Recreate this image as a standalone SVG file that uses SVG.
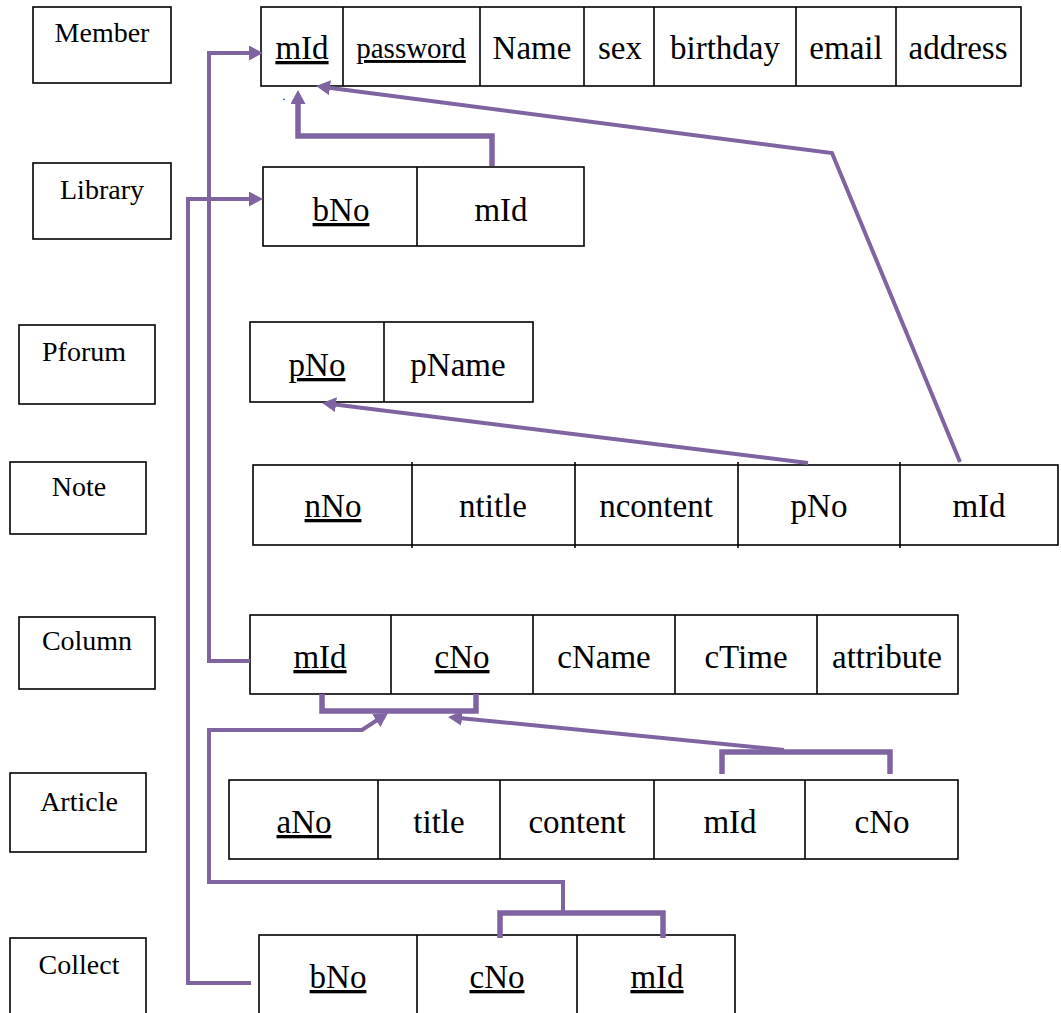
<svg xmlns="http://www.w3.org/2000/svg" width="1061" height="1013" viewBox="0 0 1061 1013" font-family="Liberation Serif, Times New Roman, serif">
<style>
.bg{fill:#ffffff}
.box{fill:#ffffff;stroke:#000000;stroke-width:1.6}
.div{stroke:#000000;stroke-width:1.6}
.lbl{font-size:28px;fill:#000000;text-anchor:middle}
.fld{font-size:33px;fill:#000000;text-anchor:middle}
.sm{font-size:29px}
.pk{text-decoration:underline}
.con{fill:none;stroke:#8064A2;stroke-width:4;stroke-linejoin:miter}
.thk{stroke-width:5.5}
.arr{marker-end:url(#ah)}
</style>
<defs>
<marker id="ah" markerUnits="userSpaceOnUse" markerWidth="18" markerHeight="18" refX="3" refY="7.5" orient="auto" viewBox="0 0 18 18">
<path d="M0,0 L14,7.5 L0,15 z" fill="#8064A2"/>
</marker>
</defs>
<rect class="bg" x="0" y="0" width="1061" height="1013"/>

<g id="label-member"><rect class="box" x="33" y="7" width="138" height="76"/><text class="lbl" x="102" y="42">Member</text></g>
<g id="label-library"><rect class="box" x="33" y="163" width="138" height="76"/><text class="lbl" x="102" y="199">Library</text></g>
<g id="label-pforum"><rect class="box" x="19" y="325" width="136" height="79"/><text class="lbl" x="84" y="361">Pforum</text></g>
<g id="label-note"><rect class="box" x="10" y="462" width="136" height="72"/><text class="lbl" x="79" y="496">Note</text></g>
<g id="label-column"><rect class="box" x="19" y="617" width="136" height="72"/><text class="lbl" x="87" y="650">Column</text></g>
<g id="label-article"><rect class="box" x="10" y="773" width="136" height="79"/><text class="lbl" x="79" y="811">Article</text></g>
<g id="label-collect"><rect class="box" x="10" y="938" width="136" height="80"/><text class="lbl" x="79" y="974">Collect</text></g>

<g id="member">
<rect class="box" x="261" y="7" width="760" height="79"/>
<line class="div" x1="343" y1="7" x2="343" y2="86"/>
<line class="div" x1="480" y1="7" x2="480" y2="86"/>
<line class="div" x1="584" y1="7" x2="584" y2="86"/>
<line class="div" x1="654" y1="7" x2="654" y2="86"/>
<line class="div" x1="796" y1="7" x2="796" y2="86"/>
<line class="div" x1="896" y1="7" x2="896" y2="86"/>
<text class="fld pk" x="302" y="59">mId</text>
<text class="fld sm pk" x="411" y="58">password</text>
<text class="fld" x="532" y="59">Name</text>
<text class="fld" x="620" y="59">sex</text>
<text class="fld" x="725" y="59">birthday</text>
<text class="fld" x="846" y="59">email</text>
<text class="fld" x="958" y="59">address</text>
<text class="fld" x="284" y="100" style="font-size:12px">.</text>
</g>

<g id="library">
<rect class="box" x="263" y="167" width="321" height="79"/>
<line class="div" x1="417" y1="167" x2="417" y2="246"/>
<text class="fld pk" x="341" y="221">bNo</text>
<text class="fld" x="501" y="221">mId</text>
</g>

<g id="pforum">
<rect class="box" x="250" y="322" width="283" height="80"/>
<line class="div" x1="384" y1="322" x2="384" y2="402"/>
<text class="fld pk" x="317" y="376">pNo</text>
<text class="fld" x="458" y="376">pName</text>
</g>

<g id="note">
<rect class="box" x="253" y="465" width="805" height="80"/>
<line class="div" x1="412" y1="462" x2="412" y2="548"/>
<line class="div" x1="575" y1="462" x2="575" y2="548"/>
<line class="div" x1="738" y1="462" x2="738" y2="548"/>
<line class="div" x1="900" y1="462" x2="900" y2="548"/>
<text class="fld pk" x="333" y="517">nNo</text>
<text class="fld" x="493" y="517">ntitle</text>
<text class="fld" x="656" y="517">ncontent</text>
<text class="fld" x="819" y="517">pNo</text>
<text class="fld" x="979" y="517">mId</text>
</g>

<g id="column">
<rect class="box" x="250" y="615" width="708" height="79"/>
<line class="div" x1="391" y1="615" x2="391" y2="694"/>
<line class="div" x1="533" y1="615" x2="533" y2="694"/>
<line class="div" x1="675" y1="615" x2="675" y2="694"/>
<line class="div" x1="817" y1="615" x2="817" y2="694"/>
<text class="fld pk" x="320" y="668">mId</text>
<text class="fld pk" x="462" y="668">cNo</text>
<text class="fld" x="604" y="668">cName</text>
<text class="fld" x="746" y="668">cTime</text>
<text class="fld" x="887" y="668">attribute</text>
</g>

<g id="article">
<rect class="box" x="229" y="780" width="729" height="79"/>
<line class="div" x1="378" y1="780" x2="378" y2="859"/>
<line class="div" x1="500" y1="780" x2="500" y2="859"/>
<line class="div" x1="654" y1="780" x2="654" y2="859"/>
<line class="div" x1="805" y1="780" x2="805" y2="859"/>
<text class="fld pk" x="304" y="833">aNo</text>
<text class="fld" x="439" y="833">title</text>
<text class="fld" x="577" y="833">content</text>
<text class="fld" x="730" y="833">mId</text>
<text class="fld" x="882" y="833">cNo</text>
</g>

<g id="collect">
<rect class="box" x="259" y="935" width="476" height="85"/>
<line class="div" x1="417" y1="935" x2="417" y2="1020"/>
<line class="div" x1="577" y1="935" x2="577" y2="1020"/>
<text class="fld pk" x="338" y="988">bNo</text>
<text class="fld pk" x="497" y="988">cNo</text>
<text class="fld pk" x="657" y="988">mId</text>
</g>

<g id="connectors">
<path class="con arr" d="M250,661 H209 V53 H252"/>
<path class="con arr" d="M251,983 H188 V199 H252"/>
<path class="con thk arr" d="M492,166 V136 H298 V101"/>
<path class="con arr" d="M960,462 L832,153 L327,87.4"/>
<path class="con arr" d="M808,463 L333,404.3"/>
<path class="con thk" d="M322,694 V711 H476 V694"/>
<path class="con thk" d="M722,774 V752 H890 V774"/>
<path class="con arr" d="M784,750 L459,718"/>
<path class="con thk" d="M500,938 V913 H663 V938"/>
<path class="con arr" d="M563,913 V882 H209 V730 H362 L378.8,719"/>
</g>
</svg>
